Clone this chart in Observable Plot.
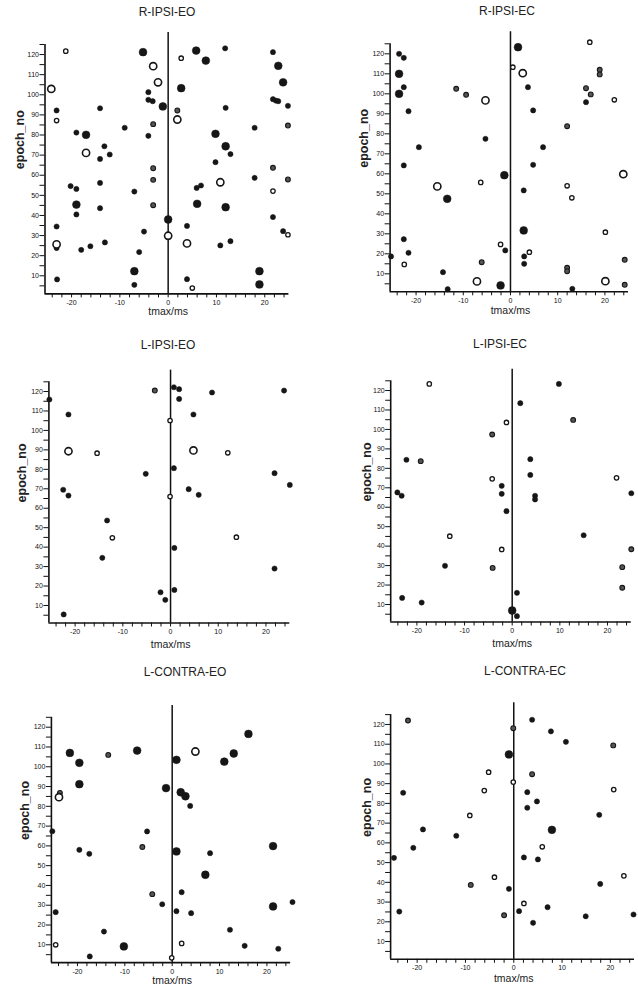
<!DOCTYPE html>
<html><head><meta charset="utf-8">
<script src="https://cdn.jsdelivr.net/npm/d3@7"></script>
<script src="https://cdn.jsdelivr.net/npm/@observablehq/plot@0.6"></script>
<style>
html,body{margin:0;padding:0;background:#fff;}
#root{position:relative;width:638px;height:990px;overflow:hidden;font-family:"Liberation Sans",Arial,sans-serif;}
.panel{position:absolute;}
.title{position:absolute;font-size:12px;color:#222;transform:translate(-50%,-50%);white-space:nowrap;}
</style></head><body><div id="root"></div>
<script>
// [tmax (ms), epoch_no, kind]  kind: f filled small, F filled large, o open small, O open large, g grey small
const rIpsiEO = [[-21.2,121.7,"o"],[-24.2,102.9,"O"],[-23.1,92.2,"f"],[-23.1,87.2,"o"],[-19.0,81.2,"f"],[-17.0,80.1,"F"],[-17.0,71.1,"O"],[-14.1,93.3,"f"],[-13.2,74.4,"f"],[-14.1,68.1,"f"],[-12.1,70.3,"f"],[-9.0,83.6,"f"],[-20.2,54.6,"f"],[-19.0,53.2,"f"],[-19.0,45.4,"F"],[-19.0,40.5,"f"],[-14.1,56.2,"f"],[-14.1,43.6,"f"],[-23.1,34.5,"f"],[-23.1,23.8,"f"],[-23.1,25.6,"O"],[-18.0,22.9,"f"],[-16.1,24.7,"f"],[-13.1,26.6,"f"],[-23.0,8.2,"f"],[-7.0,51.9,"f"],[-5.0,32.0,"f"],[-6.0,21.8,"f"],[-7.0,12.3,"F"],[-7.0,5.5,"f"],[-5.2,121.2,"F"],[-3.1,114.2,"O"],[-2.1,106.2,"O"],[-4.1,101.3,"f"],[-4.1,97.5,"f"],[-3.2,96.8,"f"],[-1.1,94.2,"F"],[-3.1,85.4,"g"],[-4.1,79.6,"f"],[-3.1,63.5,"g"],[-3.1,57.7,"g"],[-3.1,45.1,"g"],[0,38.0,"F"],[0,29.9,"O"],[2.7,118.2,"o"],[2.7,103.3,"F"],[1.9,92.2,"g"],[1.9,87.7,"O"],[5.8,122.0,"F"],[7.8,117.0,"F"],[11.8,123.1,"f"],[11.9,93.5,"f"],[9.8,80.6,"F"],[11.9,74.4,"F"],[12.9,70.5,"f"],[9.8,66.5,"f"],[10.8,56.5,"O"],[6.8,54.9,"f"],[5.9,53.7,"f"],[6.0,45.8,"F"],[11.9,44.1,"F"],[3.9,34.8,"f"],[3.9,26.1,"O"],[10.8,25.1,"f"],[12.9,27.2,"f"],[3.9,8.3,"f"],[5.0,3.9,"o"],[18.9,12.3,"F"],[18.9,5.7,"F"],[21.7,121.2,"f"],[22.8,114.4,"F"],[23.8,106.2,"F"],[21.7,97.8,"f"],[22.3,97.1,"f"],[22.8,96.8,"f"],[24.8,94.5,"f"],[17.9,83.6,"f"],[24.8,84.7,"g"],[17.9,58.7,"f"],[21.7,63.7,"g"],[21.7,52.1,"o"],[24.8,57.9,"g"],[21.7,39.2,"f"],[23.8,32.2,"f"],[24.8,30.4,"o"]];

const rIpsiEC = [[-23.6,120,"f"],[-22.6,118,"f"],[-23.6,110,"F"],[-23.6,100,"F"],[-22.6,103.3,"f"],[-21.6,91.3,"f"],[-19.4,73.3,"f"],[-22.6,64.2,"f"],[-22.6,27.3,"f"],[-21.6,20.5,"f"],[-25.3,18.7,"f"],[-22.5,14.7,"o"],[-11.5,102.5,"g"],[-9.4,99.5,"g"],[-5.3,96.7,"O"],[-5.3,77.5,"f"],[-15.5,53.7,"O"],[-13.4,47.5,"F"],[-6.3,55.7,"o"],[-1.3,59.3,"F"],[-14.3,10.8,"f"],[-13.3,2.3,"f"],[-6.1,15.8,"g"],[-7.1,6.2,"O"],[-2.1,24.7,"o"],[-1.1,21.7,"f"],[-2.1,4.2,"F"],[1.6,123.3,"F"],[0.5,113.3,"o"],[2.6,110.3,"O"],[3.7,103.3,"f"],[4.8,91.7,"f"],[6.9,73.3,"f"],[4.8,64.5,"f"],[2.8,51.7,"f"],[2.8,31.7,"F"],[4.0,20.8,"o"],[2.9,18.7,"f"],[2.9,15,"f"],[12.0,83.8,"g"],[12.0,54,"o"],[13.0,48,"o"],[12.0,13,"g"],[12.0,11.3,"g"],[13.1,2.5,"f"],[16.8,125.8,"o"],[16.0,102.8,"g"],[17.0,99.7,"g"],[16.0,95.8,"f"],[18.9,112,"g"],[18.9,109.7,"g"],[22.0,97,"o"],[23.9,59.8,"O"],[20.1,30.8,"o"],[20.1,6.3,"O"],[24.2,17,"g"],[24.2,4.5,"g"]];

const lIpsiEO = [[-25.4,115.9,"f"],[-21.4,108.2,"f"],[-21.4,89.3,"O"],[-15.4,88.3,"o"],[-22.5,69.5,"f"],[-21.4,66.5,"f"],[-13.3,53.7,"f"],[-12.2,44.8,"o"],[-14.3,34.5,"f"],[-22.4,5.4,"f"],[-5.2,77.7,"f"],[-3.3,120.5,"g"],[-0.1,105.1,"o"],[-0.1,66,"o"],[-2.1,16.8,"f"],[-1.1,12.9,"f"],[0.7,122.2,"f"],[1.8,121.2,"f"],[1.8,116.2,"f"],[8.7,119.5,"f"],[4.8,108.2,"f"],[4.8,89.7,"O"],[12.0,88.5,"o"],[0.7,80.6,"f"],[3.8,69.8,"f"],[5.9,66.9,"f"],[0.8,39.6,"f"],[0.8,18.0,"f"],[13.8,45.1,"o"],[21.8,78.0,"f"],[25.0,72.0,"f"],[21.8,29.0,"f"],[23.8,120.5,"f"]];

const lIpsiEC = [[-17.4,123.4,"o"],[-24.1,67.6,"f"],[-23.2,65.9,"f"],[-22.2,84.4,"f"],[-19.2,83.7,"g"],[-23.1,13.4,"f"],[-19.0,11.0,"f"],[-13.1,45.1,"o"],[-14.1,29.9,"f"],[-4.2,97.4,"g"],[-4.2,74.6,"o"],[-2.2,71.0,"f"],[-2.2,66.9,"f"],[-1.2,58.0,"f"],[-2.2,38.3,"o"],[-4.1,28.8,"g"],[-1.2,103.6,"o"],[0,6.9,"F"],[1.0,4.0,"f"],[1.0,16.0,"f"],[1.7,113.5,"f"],[9.8,123.4,"f"],[12.8,104.9,"g"],[3.8,84.7,"f"],[3.8,76.6,"f"],[4.8,65.9,"f"],[4.8,64.0,"f"],[15.0,45.6,"f"],[21.9,75.1,"o"],[25.0,67.2,"f"],[25.0,38.4,"g"],[23.1,29.2,"g"],[23.1,18.6,"g"]];

const lContraEO = [[-25.3,67.4,"f"],[-21.6,107.0,"F"],[-19.6,102.0,"F"],[-19.6,91.2,"F"],[-23.7,86.8,"g"],[-23.9,84.6,"O"],[-13.5,106.0,"g"],[-7.4,108.2,"F"],[-1.3,89.2,"F"],[-19.6,58.0,"f"],[-17.5,56.0,"f"],[-5.3,67.3,"f"],[-6.3,59.4,"g"],[-4.2,35.6,"g"],[-2.1,30.5,"f"],[-24.6,26.5,"f"],[-24.6,10.0,"o"],[-14.4,16.7,"f"],[-10.2,9.2,"F"],[-17.4,4.1,"f"],[-0.1,3.4,"o"],[0.9,103.5,"F"],[4.9,107.7,"O"],[1.8,87.1,"F"],[2.8,85.1,"F"],[3.8,80.2,"f"],[0.9,57.2,"F"],[8.0,56.3,"f"],[7.0,45.4,"F"],[2.0,36.6,"f"],[0.9,27.0,"f"],[4.0,26.0,"f"],[2.0,10.7,"o"],[11.0,102.6,"F"],[13.0,106.7,"F"],[16.1,116.6,"F"],[12.2,17.6,"f"],[15.3,9.5,"f"],[21.3,59.9,"F"],[21.3,29.4,"F"],[22.4,8.0,"f"],[25.4,31.6,"f"]];

const lContraEC = [[-21.9,122.0,"g"],[-22.9,85.4,"f"],[-24.8,52.4,"f"],[-23.7,25.2,"f"],[-18.8,66.8,"f"],[-20.8,57.5,"f"],[-11.9,63.6,"f"],[-9.1,73.9,"o"],[-8.9,38.7,"g"],[-6.1,86.5,"o"],[-5.2,95.8,"o"],[-4.0,42.6,"o"],[-1.0,104.8,"F"],[-0.1,118.1,"g"],[-0.1,90.8,"o"],[-1.0,36.7,"f"],[-2.0,23.3,"g"],[3.8,122.4,"f"],[3.8,94.8,"g"],[2.8,85.7,"f"],[2.8,77.8,"f"],[4.8,81.0,"f"],[7.7,116.5,"f"],[10.8,111.2,"f"],[5.9,58.0,"o"],[7.9,66.6,"F"],[2.1,52.6,"f"],[5.0,51.6,"f"],[2.1,29.3,"o"],[1.1,25.4,"f"],[7.0,27.4,"f"],[4.0,19.5,"f"],[17.7,74.2,"f"],[20.6,109.4,"g"],[20.7,87.0,"o"],[17.9,39.2,"f"],[14.9,22.8,"f"],[22.8,43.3,"o"],[24.8,23.7,"f"]];

const titles = ["R-IPSI-EO","R-IPSI-EC","L-IPSI-EO","L-IPSI-EC","L-CONTRA-EO","L-CONTRA-EC"];
const panelData = [rIpsiEO, rIpsiEC, lIpsiEO, lIpsiEC, lContraEO, lContraEC];
const xTicks = d3.range(-24, 25, 2);
const xTickLabels = [-20, -10, 0, 10, 20];
const yTicks = d3.range(5, 126, 5);
const yTickLabels = d3.range(10, 121, 10);
const xLabel = "tmax/ms";
const yLabel = "epoch_no";

// layout of each panel (page pixels)
const layout = [
  {left:0,   top:0,   ml:44.5, mr:30.6, mt:44.0, mb:36.6, tx:167, ty:12, xl:21.5, yl:-25.5},
  {left:319, top:0,   ml:70.6, mr:10.0, mt:43.3, mb:38.7, tx:507, ty:11, xl:22.5, yl:-26},
  {left:0,   top:330, ml:48.4, mr:29.7, mt:51.3, mb:37.5, tx:168, ty:345, xl:25, yl:-26.5},
  {left:319, top:330, ml:71.2, mr:7.2,  mt:50.3, mb:38.5, tx:500, ty:344, xl:24.5, yl:-23.5},
  {left:0,   top:660, ml:50.9, mr:28.9, mt:56.8, mb:27.9, tx:185, ty:671.5, xl:21.5, yl:-26},
  {left:319, top:660, ml:71.1, mr:4.0,  mt:54.1, mb:31.2, tx:525, ty:671, xl:23, yl:-23.4}
];

const ink = "#161616";
const kinds = {
  F: {r:3.9, fill:ink, stroke:ink, strokeWidth:0.5},
  f: {r:2.6, fill:ink, stroke:ink, strokeWidth:0.5},
  g: {r:2.4, fill:"#555", stroke:ink, strokeWidth:1.1},
  O: {r:3.6, fill:"#fff", stroke:ink, strokeWidth:1.6},
  o: {r:2.2, fill:"#fff", stroke:ink, strokeWidth:1.3}
};

const root = document.getElementById("root");
const X0 = -25.5, X1 = 25, Y0 = 1, Y1 = 125;

panelData.forEach((data, i) => {
  const L = layout[i];
  const pts = data.map(([t, e, k]) => ({t, e, k}));
  const dotMarks = Object.keys(kinds).map(k =>
    Plot.dot(pts.filter(d => d.k === k), {x: "t", y: "e", ...kinds[k]}));
  const svg = Plot.plot({
    width: 319, height: 330,
    marginLeft: L.ml, marginRight: L.mr, marginTop: L.mt, marginBottom: L.mb,
    style: {fontFamily: "'Liberation Sans', Arial, sans-serif", fontSize: "7px", color: "#111", background: "transparent", overflow: "visible"},
    x: {domain: [X0, X1], ticks: xTicks, tickFormat: d => xTickLabels.includes(d) ? String(d) : "", tickSize: 4, tickPadding: 2, label: null},
    y: {domain: [Y0, Y1], ticks: yTicks, tickFormat: d => yTickLabels.includes(d) ? String(d) : "", tickSize: 5, tickPadding: 1, label: null},
    marks: [
      Plot.ruleX([0], {y1: Y0, y2: 131, stroke: "#111", strokeWidth: 1.5}),
      Plot.ruleX([X0], {y1: Y0, y2: Y1, stroke: "#111", strokeWidth: 1.6}),
      Plot.ruleY([Y0], {x1: X0, x2: X1, stroke: "#111", strokeWidth: 1.6}),
      ...dotMarks,
      Plot.text([{x: 0, s: xLabel}], {x: "x", text: "s", frameAnchor: "bottom", dy: L.xl, fontSize: 10.5, fill: "#222"}),
      Plot.text([yLabel], {frameAnchor: "left", rotate: -90, dx: L.yl, fontSize: 12.5, fontWeight: "bold", fill: "#222"})
    ]
  });
  svg.classList.add("panel");
  svg.style.left = L.left + "px";
  svg.style.top = L.top + "px";
  root.appendChild(svg);
  const t = document.createElement("div");
  t.className = "title";
  t.textContent = titles[i];
  t.style.left = L.tx + "px";
  t.style.top = L.ty + "px";
  root.appendChild(t);
});
</script>
</body></html>
